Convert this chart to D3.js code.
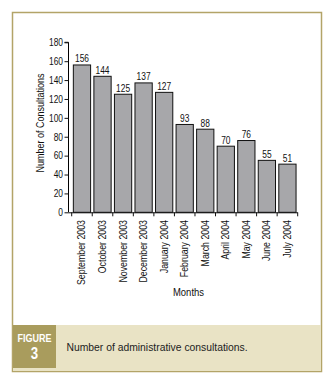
<html>
<head>
<meta charset="UTF-8">
<script src="https://d3js.org/d3.v7.min.js"></script>
<style>
  body { margin: 0; background: white; }
  text { font-family: "Liberation Sans", Arial, sans-serif; }
</style>
</head>
<body>
<svg></svg>
<script>
  // Data
  const months = ["September 2003", "October 2003", "November 2003", "December 2003", "January 2004",
                  "February 2004", "March 2004", "April 2004", "May 2004", "June 2004", "July 2004"];
  const consultations = [156, 144, 125, 137, 127, 93, 88, 70, 76, 55, 51];
  const yTicks = [0, 20, 40, 60, 80, 100, 120, 140, 160, 180];

  const width = 332;
  const height = 378;
  const numSquash = 0.8;   // reference font is a narrow grotesque
  const wordSquash = 0.88;

  let svg = d3.select("svg")
              .attr("width", width)
              .attr("height", height);

  // Frame and caption band
  svg.append("rect")
     .attr("x", 12.5).attr("y", 12.5)
     .attr("width", 309).attr("height", 359)
     .attr("fill", "white")
     .attr("stroke", "#b3a468")
     .attr("stroke-width", 1.5);

  svg.append("rect")
     .attr("x", 13).attr("y", 325)
     .attr("width", 308).attr("height", 46)
     .attr("fill", "#e9e3c5");

  svg.append("rect")
     .attr("x", 13).attr("y", 325)
     .attr("width", 43).attr("height", 43)
     .attr("fill", "#a99c5d");

  svg.append("text")
     .attr("transform", `translate(34.5, 342) scale(0.82, 1)`)
     .attr("text-anchor", "middle")
     .attr("font-size", 11).attr("font-weight", "bold")
     .attr("fill", "white")
     .text("FIGURE");

  svg.append("text")
     .attr("transform", `translate(34.5, 359) scale(0.78, 1)`)
     .attr("text-anchor", "middle")
     .attr("font-size", 17).attr("font-weight", "bold")
     .attr("fill", "white")
     .text("3");

  svg.append("text")
     .attr("transform", `translate(66.5, 351) scale(0.9, 1)`)
     .attr("font-size", 11.5)
     .attr("fill", "#222")
     .text("Number of administrative consultations.");

  // Scales
  const xScale = d3.scaleBand().domain(months)
                   .range([71.7, 297.7])
                   .paddingInner(0.16).paddingOuter(0.08);
  const yScale = d3.scaleLinear().domain([0, 180])
                   .range([212.3, 42.3]);

  // Axes
  let leftAxis = d3.axisLeft(yScale).tickValues(yTicks).tickSize(4).tickPadding(2);
  let gy = svg.append("g")
     .attr("transform", "translate(68.5, 0)")
     .call(leftAxis);
  gy.select(".domain").attr("d", `M-4,${yScale(180)}H0V${yScale(0)}`);
  gy.selectAll(".tick line").attr("stroke", "#111");
  gy.selectAll("text")
    .attr("font-size", 10.5).attr("font-family", null).attr("fill", "#111")
    .attr("x", null)
    .attr("transform", `translate(-5.5, 0) scale(${numSquash}, 1)`);

  // Bars
  svg.selectAll("rect.bar")
     .data(months)
     .join("rect")
     .attr("class", "bar")
     .attr("x", (d) => xScale(d))
     .attr("y", (d, i) => yScale(consultations[i]))
     .attr("width", xScale.bandwidth())
     .attr("height", (d, i) => yScale(0) - yScale(consultations[i]))
     .attr("fill", "#a7a7aa")
     .attr("stroke", "#111")
     .attr("stroke-width", 1);

  svg.selectAll("text.val")
     .data(months)
     .join("text")
     .attr("class", "val")
     .attr("transform", (d, i) => `translate(${xScale(d) + xScale.bandwidth() / 2}, ${yScale(consultations[i]) - 2.5}) scale(${numSquash}, 1)`)
     .attr("text-anchor", "middle")
     .attr("font-size", 10.5)
     .attr("fill", "#111")
     .text((d, i) => consultations[i]);

  // Bottom axis line and ticks at band edges
  const edges = d3.range(months.length + 1).map((i) => 71.7 + i * (226 / months.length));
  svg.append("line")
     .attr("x1", 68.5).attr("x2", 297.7)
     .attr("y1", yScale(0) + 0.5).attr("y2", yScale(0) + 0.5)
     .attr("stroke", "#111");
  svg.selectAll("line.xt")
     .data(edges)
     .join("line")
     .attr("class", "xt")
     .attr("x1", (d) => d).attr("x2", (d) => d)
     .attr("y1", yScale(0)).attr("y2", yScale(0) + 4)
     .attr("stroke", "#111");

  svg.selectAll("text.xl")
     .data(months)
     .join("text")
     .attr("class", "xl")
     .attr("transform", (d) => `translate(${xScale(d) + xScale.bandwidth() / 2 + 3.5}, 220) rotate(-90) scale(${wordSquash}, 1)`)
     .attr("text-anchor", "end")
     .attr("font-size", 10)
     .attr("fill", "#111")
     .text((d) => d);

  // Axis titles
  svg.append("text")
     .attr("transform", `translate(188.5, 296) scale(0.95, 1)`)
     .attr("text-anchor", "middle")
     .attr("font-size", 10)
     .attr("fill", "#111")
     .text("Months");

  svg.append("text")
     .attr("transform", `translate(44, 123) rotate(-90) scale(0.9, 1)`)
     .attr("text-anchor", "middle")
     .attr("font-size", 10)
     .attr("fill", "#111")
     .text("Number of Consultations");
</script>
</body>
</html>
